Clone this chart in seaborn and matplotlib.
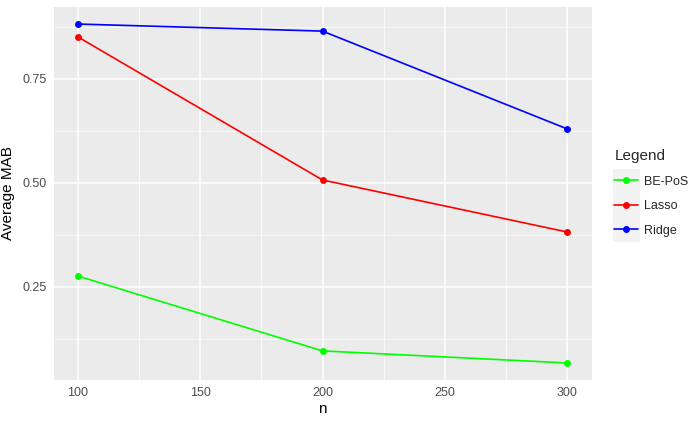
import pandas as pd
import numpy as np
import matplotlib
matplotlib.use("Agg")
import matplotlib.pyplot as plt
import seaborn as sns
from matplotlib.ticker import MultipleLocator
from matplotlib.patches import Rectangle

n_values = [100, 200, 300]
be_pos = [0.276, 0.096, 0.067]
lasso = [0.851, 0.507, 0.382]
ridge = [0.882, 0.865, 0.630]
methods = ["BE-PoS", "Lasso", "Ridge"]
colors = {"BE-PoS": "#00FF00", "Lasso": "#FF0000", "Ridge": "#0000FF"}

df = pd.DataFrame({
    "n": n_values * 3,
    "mab": be_pos + lasso + ridge,
    "method": sum([[m] * 3 for m in methods], []),
})

sns.set_style("darkgrid", {"axes.facecolor": "#EBEBEB", "grid.color": "white"})
plt.rcParams["font.family"] = ["Liberation Sans", "DejaVu Sans"]

fig = plt.figure(figsize=(7, 4.22), dpi=100)
ax = fig.add_axes([53.5 / 700, 1 - 380 / 422, 538 / 700, 373 / 422])

sns.lineplot(data=df, x="n", y="mab", hue="method", palette=colors,
             marker="o", markersize=5, markeredgewidth=0, linewidth=1.2,
             ax=ax, legend=False, zorder=3)

ax.set_xlim(90, 310)
ax.set_ylim(0.026, 0.923)
ax.xaxis.set_major_locator(MultipleLocator(50))
ax.xaxis.set_minor_locator(MultipleLocator(25))
ax.set_yticks([0.25, 0.50, 0.75])
ax.set_yticklabels(["0.25", "0.50", "0.75"])
ax.yaxis.set_minor_locator(MultipleLocator(0.125))
ax.grid(which="major", color="white", linewidth=1.1)
ax.grid(which="minor", color="white", linewidth=0.5)
for s in ax.spines.values():
    s.set_visible(False)
ax.tick_params(axis="both", which="major", length=3, color="#333333",
               labelsize=9, labelcolor="#4D4D4D", pad=2)
ax.tick_params(axis="both", which="minor", length=0)
ax.set_xlabel("n", fontsize=11, color="black")
ax.set_ylabel("Average MAB", fontsize=11, color="black")
ax.yaxis.set_label_coords(-0.072, 0.5)
ax.xaxis.set_label_coords(0.5, -0.058)

# grey key background like ggplot's legend keys
fig.patches.append(Rectangle((613 / 700, 1 - 242 / 422), 27 / 700, 73 / 422,
                             transform=fig.transFigure, facecolor="#F2F2F2",
                             edgecolor="none", zorder=0))

handles = [plt.Line2D([], [], color=colors[m], marker="o", markersize=5,
                      markeredgewidth=0, linewidth=1.2) for m in methods]
leg = fig.legend(handles, methods, title="Legend", loc="upper left",
                 bbox_to_anchor=(603 / 700, 1 - 138 / 422), frameon=False,
                 fontsize=9, title_fontsize=11, handlelength=1.9,
                 labelspacing=1.0, handletextpad=0.5)
leg._legend_box.align = "left"

fig.savefig("out.png", dpi=100)
